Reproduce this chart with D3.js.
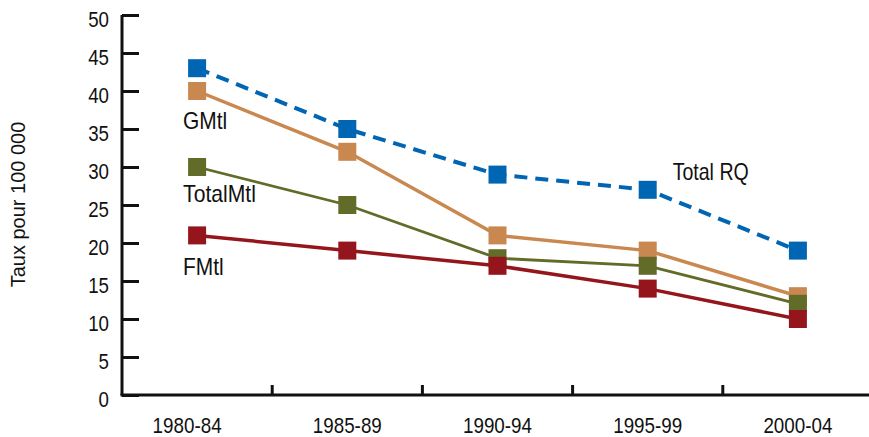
<!DOCTYPE html>
<html>
<head>
<meta charset="utf-8">
<script src="https://cdn.jsdelivr.net/npm/d3@7"></script>
<style>
  html, body { margin: 0; padding: 0; background: #fff; }
  svg text { font-family: "Liberation Sans", Arial, sans-serif; fill: #111; }
</style>
</head>
<body>
<svg id="chart" width="869" height="437"></svg>
<script>
// Periods on the horizontal axis
const periods = ["1980-84", "1985-89", "1990-94", "1995-99", "2000-04"];
// Rates per 100 000 for each series
const totalRQ = [43, 35, 29, 27, 19];
const gMtl = [40, 32, 21, 19, 13];
const totalMtl = [30, 25, 18, 17, 12];
const fMtl = [21, 19, 17, 14, 10];
const yTicks = [0, 5, 10, 15, 20, 25, 30, 35, 40, 45, 50];

const seriesList = [
  { name: "Total RQ", values: totalRQ, color: "#0066b3", width: 4, dash: "13,8", label: { at: 3, dx: 25, dy: -10, sx: 0.85 } },
  { name: "GMtl", values: gMtl, color: "#c98850", width: 3.5, dash: null, label: { at: 0, dx: -14, dy: 38, sx: 0.91 } },
  { name: "TotalMtl", values: totalMtl, color: "#636b29", width: 2.8, dash: null, label: { at: 0, dx: -14, dy: 35, sx: 0.92 } },
  { name: "FMtl", values: fMtl, color: "#94161c", width: 3.5, dash: null, label: { at: 0, dx: -14, dy: 39.5, sx: 0.91 } }
];

const svg = d3.select("#chart");
const plotLeft = 122, plotRight = 873, plotTop = 15, plotBottom = 395;

const x = d3.scaleBand().domain(periods).range([plotLeft, plotRight]);
const y = d3.scaleLinear().domain([0, 50]).range([plotBottom, plotTop]);

// Condensed-looking text: horizontal squeeze around the anchor point
function label(parent, tx, ty, str, size, sx, anchor) {
  return parent.append("text")
    .attr("transform", `translate(${tx},${ty}) scale(${sx},1)`)
    .attr("text-anchor", anchor || "start")
    .attr("font-size", size)
    .text(str);
}

// Y axis: ticks pointing inward
const yAxis = svg.append("g").attr("transform", `translate(${plotLeft},0)`)
  .call(d3.axisRight(y).tickValues(yTicks).tickSize(17).tickFormat(""));
yAxis.select(".domain").attr("stroke", "#111").attr("stroke-width", 3).attr("d", `M0,${plotTop}V${plotBottom}`);
yAxis.selectAll(".tick line").attr("stroke", "#111").attr("stroke-width", 3);

const yLab = svg.append("g");
yTicks.forEach(t => label(yLab, 109, y(t) + 12, String(t), 22, 0.85, "end"));

// X axis: band boundaries ticked upward
const xAxisG = svg.append("g").attr("transform", `translate(0,${plotBottom})`);
xAxisG.append("line").attr("x1", plotLeft - 1.5).attr("x2", 869).attr("y1", 0).attr("y2", 0)
  .attr("stroke", "#111").attr("stroke-width", 3);
xAxisG.selectAll("line.b").data(periods.slice(1)).join("line").attr("class", "b")
  .attr("x1", d => x(d)).attr("x2", d => x(d)).attr("y1", 0).attr("y2", -10)
  .attr("stroke", "#111").attr("stroke-width", 3);
periods.forEach((p, i) => {
  const shift = i === 0 ? -10 : 0;
  label(xAxisG, x(p) + x.bandwidth() / 2 + shift, 38, p, 22, 0.855, "middle");
});

// Y axis title
svg.append("text").attr("transform", "translate(25,204.5) rotate(-90)")
  .attr("text-anchor", "middle").attr("font-size", 20).text("Taux pour 100 000");

const cx = d => x(d) + x.bandwidth() / 2;
const line = d3.line().x((d, i) => cx(periods[i])).y(d => y(d));
const ms = 18;

seriesList.forEach(s => {
  const g = svg.append("g");
  g.append("path").attr("d", line(s.values)).attr("fill", "none")
    .attr("stroke", s.color).attr("stroke-width", s.width)
    .attr("stroke-dasharray", s.dash);
  g.selectAll("rect").data(s.values).join("rect")
    .attr("x", (d, i) => cx(periods[i]) - ms / 2).attr("y", d => y(d) - ms / 2)
    .attr("width", ms).attr("height", ms).attr("fill", s.color);
  label(g, cx(periods[s.label.at]) + s.label.dx, y(s.values[s.label.at]) + s.label.dy,
    s.name, 23, s.label.sx, "start");
});
</script>
</body>
</html>
